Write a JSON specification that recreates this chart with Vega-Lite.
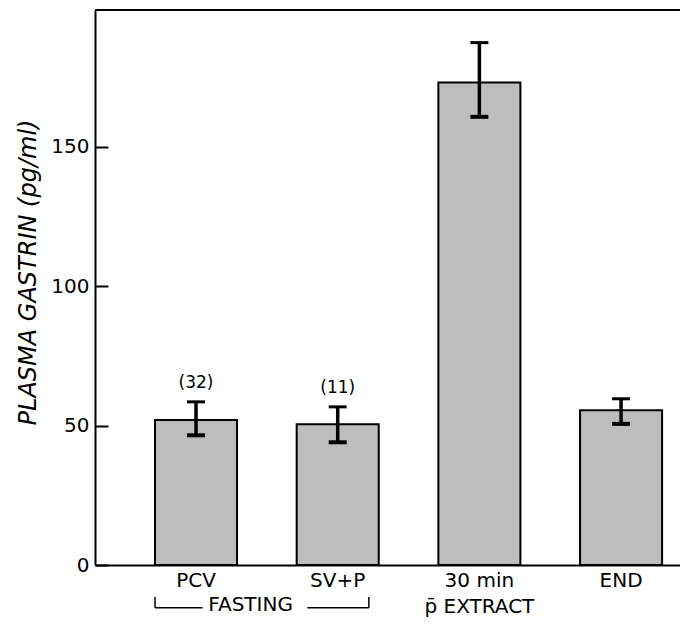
{
  "$schema": "https://vega.github.io/schema/vega-lite/v6.json",
  "width": 585,
  "height": 555,
  "autosize": {"type": "none"},
  "padding": {"left": 95, "top": 10, "right": 0, "bottom": 60},
  "background": "white",
  "config": {
    "view": {"stroke": null},
    "font": "DejaVu Sans",
    "axis": {"domainColor": "black", "domainWidth": 2, "tickColor": "black", "tickWidth": 2, "labelColor": "black", "titleColor": "black", "grid": false}
  },
  "data": {
    "values": [
      {"cond": "PCV", "mean": 52, "lo": 46.5, "hi": 58.5, "n": "(32)"},
      {"cond": "SV+P", "mean": 50.5, "lo": 44, "hi": 56.7, "n": "(11)"},
      {"cond": "30 min", "mean": 173, "lo": 160.7, "hi": 187.3, "n": ""},
      {"cond": "END", "mean": 55.5, "lo": 50.6, "hi": 59.6, "n": ""}
    ]
  },
  "layer": [
    {
      "mark": {"type": "bar", "fill": "#bdbdbd", "stroke": "black", "strokeWidth": 2},
      "encoding": {
        "x": {
          "field": "cond", "type": "nominal",
          "scale": {"domain": ["PCV", "SV+P", "30 min", "END"], "paddingInner": 0.421, "paddingOuter": 0.275, "align": 0.77},
          "axis": {"title": null, "labelAngle": 0, "ticks": false, "labelFontSize": 20, "labelPadding": 5, "labelLineHeight": 26,
                   "labelExpr": "datum.value == '30 min' ? ['30 min', 'p\u0304 EXTRACT'] : datum.value"}
        },
        "y": {"field": "mean", "type": "quantitative", "scale": {"domain": [0, 199], "nice": false},
              "axis": {"title": "PLASMA  GASTRIN  (pg/ml)", "titleFontSize": 24, "titleFontStyle": "italic", "titleFontWeight": "normal",
                       "titlePadding": 10, "titleY": 262, "values": [0, 50, 100, 150], "labelFontSize": 20, "tickSize": -13, "labelPadding": 19}}
      }
    },
    {
      "mark": {"type": "rule", "strokeWidth": 3.5, "color": "black"},
      "encoding": {"x": {"field": "cond", "type": "nominal"}, "y": {"field": "lo", "type": "quantitative"}, "y2": {"field": "hi"}}
    },
    {
      "mark": {"type": "tick", "color": "black", "thickness": 3, "size": 18, "opacity": 1},
      "encoding": {"x": {"field": "cond", "type": "nominal"}, "y": {"field": "hi", "type": "quantitative"}}
    },
    {
      "mark": {"type": "tick", "color": "black", "thickness": 4, "size": 18, "opacity": 1},
      "encoding": {"x": {"field": "cond", "type": "nominal"}, "y": {"field": "lo", "type": "quantitative"}}
    },
    {
      "mark": {"type": "text", "fontSize": 17, "baseline": "bottom", "dy": -10, "color": "black"},
      "encoding": {"x": {"field": "cond", "type": "nominal"}, "y": {"field": "hi", "type": "quantitative"}, "text": {"field": "n"}}
    },
    {
      "mark": {"type": "rule", "color": "black", "strokeWidth": 2},
      "encoding": {"y": {"datum": 199}}
    },
    {
      "data": {"values": [{"from": "PCV", "to": "SV+P", "label": "FASTING"}]},
      "layer": [
        {
          "mark": {"type": "rule", "color": "black", "strokeWidth": 1.5},
          "encoding": {"x": {"field": "from", "type": "nominal", "bandPosition": 0}, "x2": {"field": "from", "bandPosition": 0.58}, "y": {"datum": -15.3}}
        },
        {
          "mark": {"type": "rule", "color": "black", "strokeWidth": 1.5},
          "encoding": {"x": {"field": "to", "type": "nominal", "bandPosition": 0.13}, "x2": {"field": "to", "bandPosition": 0.88}, "y": {"datum": -15.3}}
        },
        {
          "mark": {"type": "rule", "color": "black", "strokeWidth": 1.5},
          "encoding": {"x": {"field": "from", "type": "nominal", "bandPosition": 0}, "y": {"datum": -15.3}, "y2": {"datum": -11.5}}
        },
        {
          "mark": {"type": "rule", "color": "black", "strokeWidth": 1.5},
          "encoding": {"x": {"field": "to", "type": "nominal", "bandPosition": 0.88}, "y": {"datum": -15.3}, "y2": {"datum": -11.5}}
        },
        {
          "mark": {"type": "text", "fontSize": 20, "align": "left", "baseline": "middle", "color": "black"},
          "encoding": {"x": {"field": "from", "type": "nominal", "bandPosition": 0.65}, "y": {"datum": -14.5}, "text": {"field": "label"}}
        }
      ]
    }
  ]
}
